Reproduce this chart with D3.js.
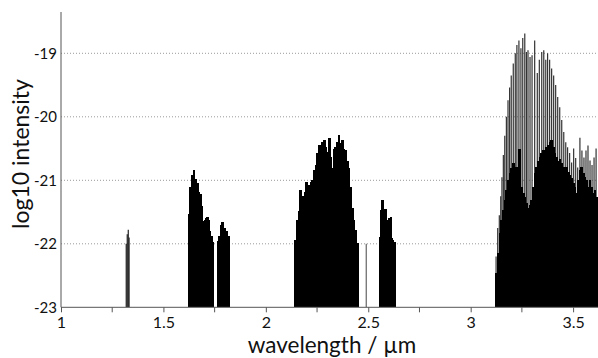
<!DOCTYPE html>
<html>
<head>
<meta charset="utf-8">
<script src="https://cdn.jsdelivr.net/npm/d3@7"></script>
<style>
  body { margin: 0; background: #fff; }
  svg { display: block; font-family: Lato, "Open Sans", sans-serif; }
</style>
</head>
<body>
<svg width="598" height="358"></svg>
<script>
// band near 1.33 um
const lamA = [1.3185, 1.3234, 1.3284, 1.3323];
const valA = [-22.0, -21.85, -21.78, -21.9];

// band 1.63 - 1.82 um
const lamB = [1.6252, 1.6331, 1.6410, 1.6489, 1.6577, 1.6656, 1.6735, 1.6804, 1.6873, 1.6952, 1.7031, 1.7090, 1.7159,
              1.7228, 1.7287, 1.7356, 1.7425, 1.7652, 1.7731, 1.7810, 1.7879, 1.7958, 1.8017, 1.8106, 1.8185];
const valB = [-21.53, -21.11, -20.92, -20.83, -20.98, -21.05, -21.18, -21.22, -21.40, -21.64, -21.63, -21.60, -21.58,
              -21.62, -21.80, -21.87, -21.97, -21.96, -21.87, -21.71, -21.66, -21.76, -21.75, -21.80, -21.88];

// band 2.15 - 2.45 um
const lamC = [2.1458, 2.1537, 2.1616, 2.1705, 2.1784, 2.1853, 2.1912, 2.1971, 2.2060, 2.2119, 2.2208, 2.2287, 2.2366,
              2.2444, 2.2533, 2.2612, 2.2691, 2.2780, 2.2859, 2.2938, 2.3016, 2.3095, 2.3184, 2.3263, 2.3332, 2.3411,
              2.3490, 2.3569, 2.3657, 2.3736, 2.3815, 2.3894, 2.3973, 2.4062, 2.4141, 2.4219, 2.4308, 2.4387, 2.4466];
const valC = [-21.94, -21.62, -21.48, -21.16, -21.25, -21.32, -21.19, -21.03, -21.27, -21.08, -21.03, -21.00, -20.84,
              -20.76, -20.57, -20.45, -20.53, -20.40, -20.37, -20.48, -20.56, -20.34, -20.64, -20.80, -20.50, -20.48,
              -20.40, -20.29, -20.42, -20.37, -20.50, -20.53, -20.69, -20.81, -21.11, -21.43, -21.63, -21.79, -21.98];

// lone line near 2.49 um
const lamLone = [2.4900];
const valLone = [-22.0];

// band 2.56 - 2.63 um
const lamD = [2.5570, 2.5639, 2.5689, 2.5758, 2.5807, 2.5866, 2.5925, 2.5975, 2.6044, 2.6113, 2.6162, 2.6221, 2.6290];
const valD = [-21.89, -21.47, -21.31, -21.45, -21.52, -21.45, -21.63, -21.71, -21.60, -21.58, -21.91, -21.94, -21.97];

// band from 3.12 um: strong branch lines
const lamE = [3.1240, 3.1319, 3.1398, 3.1467, 3.1526, 3.1595, 3.1664, 3.1743, 3.1822, 3.1901, 3.1980, 3.2079, 3.2177,
              3.2256, 3.2355, 3.2453, 3.2542, 3.2641, 3.2720, 3.2798, 3.2897, 3.2996, 3.3124, 3.3252, 3.3351, 3.3469,
              3.3568, 3.3666, 3.3755, 3.3854, 3.3952, 3.4051, 3.4149, 3.4248, 3.4347, 3.4445, 3.4544, 3.4642, 3.4731,
              3.4830, 3.4928, 3.5027, 3.5126, 3.5224, 3.5333, 3.5431, 3.5530, 3.5629, 3.5727, 3.5826, 3.5924, 3.6023, 3.6122];
const valE = [-22.2, -21.75, -21.55, -21.25, -20.95, -20.6, -20.3, -20.0, -19.74, -19.54, -19.35, -19.16, -19.0,
              -18.87, -18.8, -18.92, -18.76, -18.69, -18.98, -18.95, -19.06, -19.03, -18.8, -19.31, -19.1, -18.98,
              -18.95, -19.1, -19.0, -19.1, -19.24, -19.35, -19.5, -19.69, -19.85, -20.05, -20.24, -20.4, -20.48,
              -20.57, -20.72, -20.5, -20.65, -20.8, -20.33, -20.53, -20.64, -20.53, -20.45, -20.69, -20.76, -20.64, -20.5];

// band from 3.12 um: dense weak lines
const lamF = [3.1270, 3.1349, 3.1428, 3.1517, 3.1595, 3.1674, 3.1753, 3.1832, 3.1921, 3.2000, 3.2079, 3.2167, 3.2246,
              3.2325, 3.2374, 3.2493, 3.2572, 3.2650, 3.2729, 3.2808, 3.2897, 3.2976, 3.3055, 3.3144, 3.3222, 3.3301,
              3.3380, 3.3469, 3.3548, 3.3627, 3.3716, 3.3785, 3.3873, 3.3952, 3.4031, 3.4120, 3.4199, 3.4277, 3.4356,
              3.4445, 3.4524, 3.4603, 3.4692, 3.4761, 3.4850, 3.4928, 3.5007, 3.5096, 3.5175, 3.5254, 3.5333, 3.5421,
              3.5500, 3.5579, 3.5668, 3.5737, 3.5826, 3.5905, 3.5984, 3.6072, 3.6151];
const valF = [-22.46, -22.15, -21.83, -21.63, -21.47, -21.31, -21.16, -21.0, -20.89, -20.81, -20.73, -20.81, -20.79,
              -20.95, -20.5, -21.11, -21.2, -21.27, -21.36, -21.43, -21.39, -21.31, -21.11, -20.89, -20.79, -20.69,
              -20.64, -20.57, -20.53, -20.55, -20.47, -20.45, -20.4, -20.37, -20.47, -20.57, -20.64, -20.69, -20.66,
              -20.73, -20.79, -20.84, -20.79, -20.87, -20.92, -20.97, -21.05, -21.11, -21.2, -21.0, -20.84, -20.79,
              -20.89, -20.95, -21.0, -21.11, -21.0, -21.11, -21.2, -21.16, -21.27];

const xTicks = [1, 1.5, 2, 2.5, 3, 3.5];
const xMinor = [1.25, 1.75, 2.25, 2.75, 3.25];
const yTicks = [-23, -22, -21, -20, -19];

const svg = d3.select("svg"),
    width = +svg.attr("width"),
    height = +svg.attr("height");

const plotLeft = 61, plotRight = 598, plotBottom = 307.3, plotTop = 12;
const x = d3.scaleLinear([1, 3.5], [plotLeft, 573.1]);
const y = d3.scaleLinear([-23, -19], [plotBottom, 53.3]);

svg.append("defs").append("clipPath")
    .attr("id", "plot")
    .append("rect")
    .attr("x", plotLeft).attr("y", 0)
    .attr("width", plotRight - plotLeft).attr("height", plotBottom);

// dotted gridlines
svg.append("g")
    .selectAll("line")
    .data(yTicks.slice(1))
    .join("line")
    .attr("x1", plotLeft).attr("x2", plotRight)
    .attr("y1", d => y(d)).attr("y2", d => y(d))
    .attr("stroke", "#9a9a9a")
    .attr("stroke-width", 1)
    .attr("stroke-dasharray", "1,2");

const sticks = svg.append("g").attr("clip-path", "url(#plot)");

function drawBand(lam, val, w, col, crisp) {
    sticks.append("g")
        .attr("stroke", col)
        .attr("stroke-width", w)
        .attr("shape-rendering", crisp ? "crispEdges" : "auto")
        .selectAll("line")
        .data(d3.zip(lam, val))
        .join("line")
        .attr("x1", d => x(d[0])).attr("x2", d => x(d[0]))
        .attr("y1", plotBottom).attr("y2", d => y(d[1]));
}

drawBand(lamA, valA, 1.2, "#222", false);
drawBand(lamB, valB, 2.4, "#000", true);
drawBand(lamC, valC, 2.6, "#000", true);
drawBand(lamLone, valLone, 1, "#444", false);
drawBand(lamD, valD, 2.4, "#000", true);
drawBand(lamE, valE, 1.2, "#333", false);
drawBand(lamF, valF, 2.6, "#000", true);

// x axis
const xAxis = svg.append("g")
    .attr("transform", `translate(0,${plotBottom})`)
    .call(d3.axisBottom(x).tickValues(xTicks).tickSize(5).tickPadding(4).tickFormat(d => String(d)));
xAxis.select(".domain").remove();
xAxis.selectAll(".tick line").attr("stroke", "#555");
xAxis.selectAll(".tick text")
    .attr("font-family", "Lato, sans-serif")
    .attr("font-size", 16)
    .attr("fill", "#111");

svg.append("g")
    .selectAll("line")
    .data(xMinor)
    .join("line")
    .attr("x1", d => x(d)).attr("x2", d => x(d))
    .attr("y1", plotBottom).attr("y2", plotBottom + 5)
    .attr("stroke", "#555");

svg.append("line")
    .attr("x1", plotLeft).attr("x2", plotRight)
    .attr("y1", plotBottom).attr("y2", plotBottom)
    .attr("stroke", "#555");

// y axis
const yAxis = svg.append("g")
    .attr("transform", `translate(${plotLeft},0)`)
    .call(d3.axisLeft(y).tickValues(yTicks).tickSize(0).tickPadding(4).tickFormat(d => String(d)));
yAxis.select(".domain").remove();
yAxis.selectAll(".tick text")
    .attr("font-family", "Lato, sans-serif")
    .attr("font-size", 15)
    .attr("fill", "#111");

svg.append("line")
    .attr("x1", plotLeft).attr("x2", plotLeft)
    .attr("y1", plotTop).attr("y2", plotBottom)
    .attr("stroke", "#555");

svg.append("text")
    .attr("transform", "translate(20,154) rotate(-90)")
    .attr("text-anchor", "middle")
    .attr("dominant-baseline", "central")
    .attr("font-size", 23)
    .attr("fill", "#111")
    .text("log10 intensity");

svg.append("text")
    .attr("x", 332)
    .attr("y", 353)
    .attr("text-anchor", "middle")
    .attr("font-size", 22.5)
    .attr("fill", "#111")
    .text("wavelength / µm");
</script>
</body>
</html>
